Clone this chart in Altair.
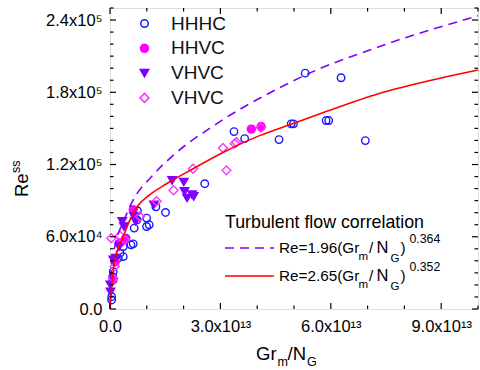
import altair as alt
import pandas as pd

# ---------------- data (x in units of 1e13, y = Re_ss) ----------------
hhhc_x = [0.046, 0.046, 0.073, 0.089, 0.136, 0.225, 0.271, 0.360, 0.360, 0.434, 0.569, 0.631,
          0.658, 0.732, 0.745, 0.995, 1.065, 0.995, 1.247, 1.509, 2.575, 3.369, 3.659, 4.593,
          4.924, 4.986, 5.304, 5.873, 5.943, 6.279, 6.938]
hhhc_y = [7490, 10240, 26890, 31050, 40790, 42210, 46370, 43540, 51860, 58860, 53280, 54110,
          67180, 74090, 81590, 75510, 69930, 68520, 84920, 80170, 104060, 147350, 141530, 140690,
          153770, 153770, 195890, 156510, 156510, 192060, 139860]

hhvc_x = [3.840, 4.106, 0.631, 0.420, 0.271, 0.136, 0.081]
hhvc_y = [149430, 151520, 82420, 58280, 54950, 39130, 24140]

vhvc_t_x = [1.688, 2.005, 2.024, 2.095, 2.230, 2.276, 1.192, 0.650, 0.696, 0.333, 0.379, 0.244,
            0.154, 0.089, 0.010, 0.014]
vhvc_t_y = [106810, 105480, 97650, 92160, 94910, 93490, 86580, 76840, 72680, 72680, 68520, 51860,
            42210, 40790, 19980, 14150]

vhvc_d_x = [2.257, 1.726, 1.266, 0.813, 0.271, 0.398, 0.035, 0.127, 0.089, 3.070, 3.163, 3.388,
            3.434, 4.100]
vhvc_d_y = [116550, 98650, 89490, 76840, 60770, 57440, 58860, 35210, 25560, 133790, 115140, 137360,
            138450, 150680]

# correlation curves
dash_x = [0.0, 0.027, 0.108, 0.379, 0.561, 1.192, 1.688, 2.935, 4.607, 5.691, 7.0, 7.940, 8.672, 10.0]
dash_y = [0, 29000, 48000, 73500, 86500, 112000, 126800, 154600, 183700, 199500, 214500, 224500, 231500, 243500]

red_x = [0.0, 0.046, 0.089, 0.182, 0.360, 0.542, 0.767, 1.084, 1.537, 2.257, 3.070, 4.065,
         4.924, 5.873, 7.317, 8.943, 10.0]
red_y = [0, 18560, 32470, 46370, 60190, 74090, 86000, 95000, 104000, 116500, 130000, 144000,
         153500, 164000, 179000, 191500, 198500]

series_keys = ["HHHC", "HHVC", "VHVC_t", "VHVC_d"]
series_shapes = ["circle", "circle", "triangle-down", "diamond"]
series_stroke = ["#1a1aff", "#ff00ff", "#8000ff", "#ff33ff"]
series_fill = ["transparent", "#ff00ff", "#8000ff", "transparent"]
series_size = [56, 80, 95, 75]

x_ticks_major = [0, 3, 6, 9]
x_ticks_minor = [1, 2, 4, 5, 7, 8, 10]
y_ticks_major = [0, 60000, 120000, 180000, 240000]
y_ticks_minor = [v * 10000 for v in range(0, 26) if v % 6 != 0]

# ---------------- frames ----------------
pts = pd.concat([
    pd.DataFrame({"x": hhhc_x, "y": hhhc_y, "s": "HHHC"}),
    pd.DataFrame({"x": hhvc_x, "y": hhvc_y, "s": "HHVC"}),
    pd.DataFrame({"x": vhvc_t_x, "y": vhvc_t_y, "s": "VHVC_t"}),
    pd.DataFrame({"x": vhvc_d_x, "y": vhvc_d_y, "s": "VHVC_d"}),
], ignore_index=True)
dash_df = pd.DataFrame({"x": dash_x, "y": dash_y})
red_df = pd.DataFrame({"x": red_x, "y": red_y})

W, H = 368, 301
FONT = "Liberation Sans"

xs = alt.Scale(domain=[0, 10], nice=False, zero=False)
ys = alt.Scale(domain=[0, 250000], nice=False, zero=False)

x_axis = alt.Axis(values=x_ticks_major, title=None, grid=False, domain=False, ticks=False,
                  labelFlush=False, labelPadding=9, labelFontSize=16.5, labelFont=FONT, labelColor="black",
                  labelExpr="datum.value == 0 ? '0.0' : format(datum.value, '.1f') + 'x10¹³'")
y_axis = alt.Axis(values=y_ticks_major, title=None, grid=False, domain=False, ticks=False,
                  labelFlush=False, labelPadding=8, labelFontSize=16.5, labelFont=FONT, labelColor="black",
                  labelExpr="datum.value == 0 ? '0.0' : (datum.value < 100000 ? format(datum.value/10000, '.1f') + 'x10⁴' : format(datum.value/100000, '.1f') + 'x10⁵')")

lab_map = "datum.label == 'VHVC_t' || datum.label == 'VHVC_d' ? 'VHVC' : datum.label"
def leg():
    return alt.Legend(title=None, labelExpr=lab_map, orient="none", legendX=25, legendY=6,
                      padding=0, rowPadding=4.8, labelFont=FONT, labelFontSize=19, labelColor="#111111",
                      labelOffset=17, symbolStrokeWidth=1.5, labelLimit=300)

points = alt.Chart(pts).mark_point(strokeWidth=1.4, opacity=1).encode(
    x=alt.X("x:Q", scale=xs, axis=x_axis),
    y=alt.Y("y:Q", scale=ys, axis=y_axis),
    shape=alt.Shape("s:N", scale=alt.Scale(domain=series_keys, range=series_shapes), legend=leg()),
    stroke=alt.Stroke("s:N", scale=alt.Scale(domain=series_keys, range=series_stroke), legend=leg()),
    fill=alt.Fill("s:N", scale=alt.Scale(domain=series_keys, range=series_fill), legend=leg()),
    size=alt.Size("s:N", scale=alt.Scale(domain=series_keys, range=series_size), legend=leg()),
)

dash_line = alt.Chart(dash_df).mark_line(color="#8000ff", strokeWidth=1.6, strokeDash=[9, 6],
                                         interpolate="monotone").encode(x="x:Q", y="y:Q")
red_line = alt.Chart(red_df).mark_line(color="#ff0000", strokeWidth=1.6,
                                       interpolate="monotone").encode(x="x:Q", y="y:Q")

# inward ticks on all four sides
def xt(vals, ln):
    d = pd.DataFrame({"x": vals})
    b = alt.Chart(d).mark_rule(color="black", strokeWidth=1.2).encode(x="x:Q", y=alt.value(H), y2=alt.value(H - ln))
    t = alt.Chart(d).mark_rule(color="black", strokeWidth=1.2).encode(x="x:Q", y=alt.value(0), y2=alt.value(ln))
    return [b, t]

def yt(vals, ln):
    d = pd.DataFrame({"y": vals})
    l = alt.Chart(d).mark_rule(color="black", strokeWidth=1.2).encode(y="y:Q", x=alt.value(0), x2=alt.value(ln))
    r = alt.Chart(d).mark_rule(color="black", strokeWidth=1.2).encode(y="y:Q", x=alt.value(W), x2=alt.value(W - ln))
    return [l, r]

ticks = xt(x_ticks_major, 6) + xt(x_ticks_minor, 3.5) + yt(y_ticks_major, 6) + yt(y_ticks_minor, 3.5)

# text pieces in page pixels (plot origin at 110, 8)
OX, OY = 110, 8
def txt(t, x, y, size, angle=0, color="black"):
    return alt.Chart(pd.DataFrame({"t": [t]})).mark_text(
        font=FONT, fontSize=size, align="left", baseline="alphabetic", angle=angle, color=color
    ).encode(text="t:N", x=alt.value(x - OX), y=alt.value(y - OY))

def formula(coef, expo, base):
    return [
        txt("Re=" + coef + "(Gr", 279, base, 15.3),
        txt("m", 358.5, base + 6.5, 11.5),
        txt("/", 369, base, 15.3),
        txt("N", 376.5, base, 16.5),
        txt("G", 390.5, base + 9, 11.5),
        txt(")", 400.5, base, 15.3),
        txt(expo, 409.5, base - 10, 12.3),
    ]

texts = [
    # x-axis title Gr_m/N_G
    txt("Gr", 256, 360, 18.5), txt("m", 277.5, 366, 12.5), txt("/N", 287.5, 360, 18.5), txt("G", 307, 366, 12.5),
    # y-axis title Re_ss
    txt("Re", 28, 197, 18.5, angle=270), txt("ss", 20, 173, 12.5, angle=270),
    # correlation legend
    txt("Turbulent flow correlation", 225, 228, 17.8),
] + formula("1.96", "0.364", 253) + formula("2.65", "0.352", 281)

leg_dash = alt.Chart(pd.DataFrame({"a": [0]})).mark_rule(color="#8000ff", strokeWidth=1.6, strokeDash=[9, 6]).encode(
    x=alt.value(225 - OX), x2=alt.value(274 - OX), y=alt.value(248 - OY))
leg_red = alt.Chart(pd.DataFrame({"a": [0]})).mark_rule(color="#ff0000", strokeWidth=1.6).encode(
    x=alt.value(225 - OX), x2=alt.value(274 - OX), y=alt.value(276 - OY))

chart = alt.layer(points, dash_line, red_line, *ticks, leg_dash, leg_red, *texts).resolve_scale(
    x="shared", y="shared"
).properties(
    width=W, height=H,
    autosize=alt.AutoSizeParams(type="none"),
    padding={"left": OX, "top": OY, "right": 480 - OX - W, "bottom": 370 - OY - H},
).configure_view(
    stroke="black", strokeWidth=1.6
).configure_legend(
    labelFontSize=19, labelFont=FONT, rowPadding=4.8, labelOffset=17, labelLimit=300
).configure(background="white")

chart.save("out.html", embed_options={"renderer": "svg", "actions": False})
